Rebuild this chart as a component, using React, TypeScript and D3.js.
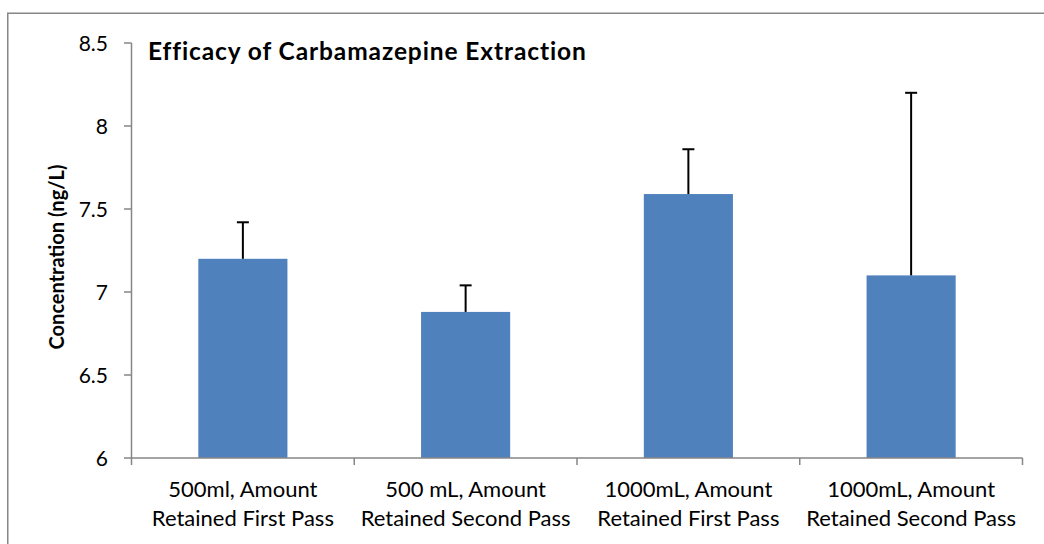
import React from "react";
import * as d3 from "d3";

const categories: string[][] = [
  ["500ml, Amount", "Retained First Pass"],
  ["500 mL, Amount", "Retained Second Pass"],
  ["1000mL, Amount", "Retained First Pass"],
  ["1000mL, Amount", "Retained Second Pass"],
];
const values: number[] = [7.2, 6.88, 7.59, 7.1];
const errorPlus: number[] = [0.22, 0.16, 0.27, 1.1];
const yTicks: number[] = [6, 6.5, 7, 7.5, 8, 8.5];
const title = "Efficacy of Carbamazepine Extraction";
const yTitle = "Concentration (ng/L)";

const W = 1044;
const H = 544;
const FONT = "Lato, 'Open Sans', sans-serif";
const AXIS = "#868686";

export default function App() {
  const left = 131.5;
  const right = 1022.5;
  const top = 43;
  const bottom = 458;
  const y = d3.scaleLinear().domain([6, 8.5]).range([bottom, top]);
  const x = d3
    .scaleBand<number>()
    .domain(categories.map((_, i) => i))
    .range([left, right])
    .paddingInner(0)
    .paddingOuter(0);
  const bw = x.bandwidth();
  const barW = bw * 0.4;
  const boundaries = [...categories.map((_, i) => x(i) as number), right];

  return (
    <svg
      width={W}
      height={H}
      style={{ position: "absolute", left: 0, top: 0, background: "#fff" }}
    >
      <rect x={0} y={0} width={W} height={H} fill="#fff" />
      <rect
        x={7.75}
        y={13.25}
        width={W + 20}
        height={H + 20}
        fill="none"
        stroke={AXIS}
        strokeWidth={1.5}
      />
      {/* title */}
      <text
        x={148}
        y={60}
        fontFamily={FONT}
        fontWeight="bold"
        fontSize={24.5}
        letterSpacing={0.9}
        fill="#000"
      >
        {title}
      </text>
      {/* y axis title */}
      <text
        transform={`translate(64,257) rotate(-90)`}
        textAnchor="middle"
        fontFamily={FONT}
        fontWeight="bold"
        fontSize={20}
        fill="#000"
      >
        {yTitle}
      </text>
      {/* bars */}
      {values.map((v, i) => {
        const cx = (x(i) as number) + bw / 2;
        return (
          <rect
            key={"b" + i}
            x={cx - barW / 2}
            y={y(v)}
            width={barW}
            height={y(6) - y(v)}
            fill="#4F81BD"
          />
        );
      })}
      {/* error bars */}
      {values.map((v, i) => {
        const cx = (x(i) as number) + bw / 2;
        const yt = y(v + errorPlus[i]);
        return (
          <g key={"e" + i} stroke="#000" strokeWidth={2}>
            <line x1={cx} x2={cx} y1={y(v)} y2={yt} />
            <line x1={cx - 6} x2={cx + 6} y1={yt} y2={yt} />
          </g>
        );
      })}
      {/* y axis */}
      <line x1={left} x2={left} y1={top} y2={bottom} stroke={AXIS} strokeWidth={1.5} />
      {yTicks.map((t) => (
        <g key={"yt" + t}>
          <line x1={left - 7.5} x2={left} y1={y(t)} y2={y(t)} stroke={AXIS} strokeWidth={1.5} />
          <text
            x={108}
            y={y(t)}
            dy="0.36em"
            textAnchor="end"
            fontFamily={FONT}
            fontSize={21}
            fill="#000"
          >
            {String(t)}
          </text>
        </g>
      ))}
      {/* x axis */}
      <line x1={left} x2={right} y1={bottom} y2={bottom} stroke={AXIS} strokeWidth={1.5} />
      {boundaries.map((b, i) => (
        <line key={"xt" + i} x1={b} x2={b} y1={bottom} y2={bottom + 7} stroke={AXIS} strokeWidth={1.5} />
      ))}
      {categories.map((lines, i) => {
        const cx = (x(i) as number) + bw / 2;
        return (
          <text
            key={"c" + i}
            textAnchor="middle"
            fontFamily={FONT}
            fontSize={22}
            fill="#000"
          >
            <tspan x={cx} y={497}>{lines[0]}</tspan>
            <tspan x={cx} y={526}>{lines[1]}</tspan>
          </text>
        );
      })}
    </svg>
  );
}
